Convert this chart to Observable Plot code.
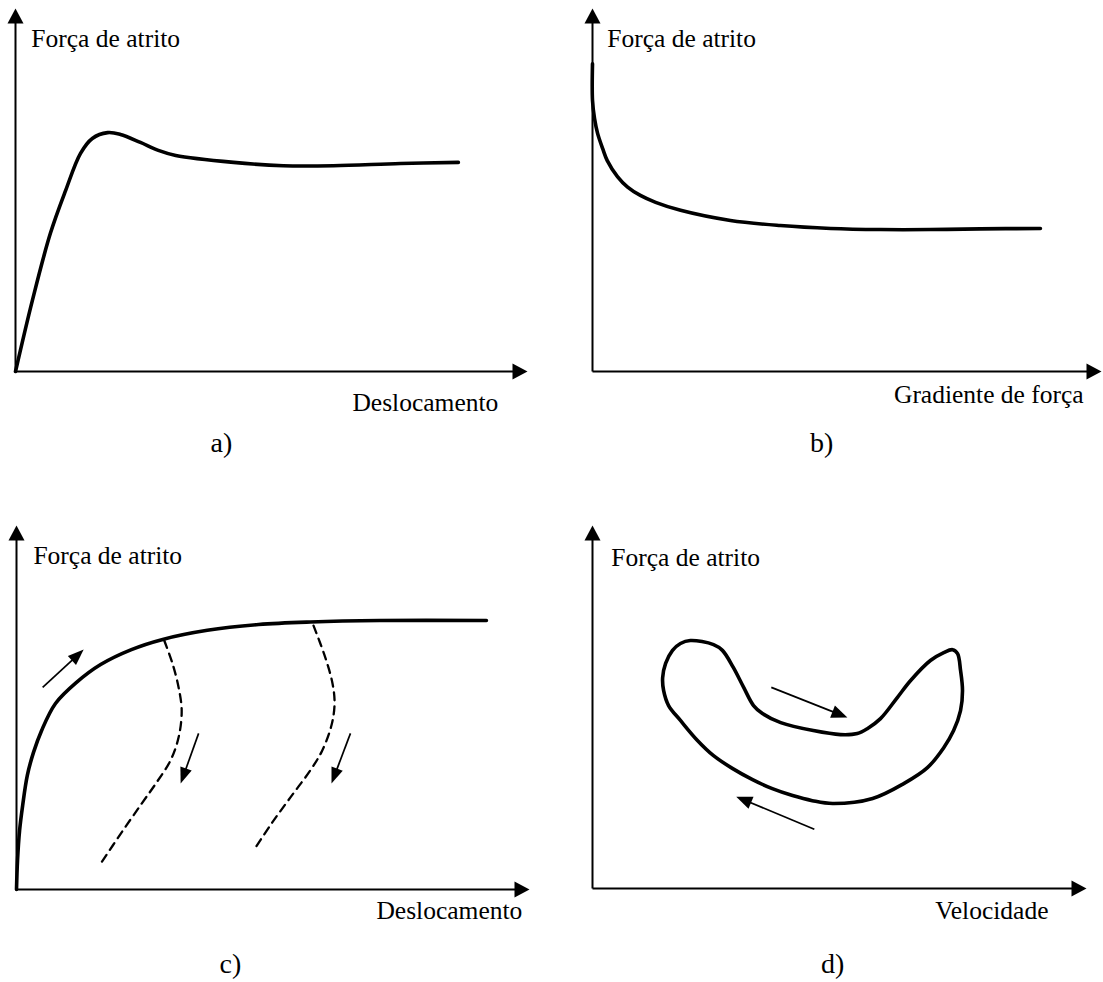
<!DOCTYPE html>
<html>
<head>
<meta charset="utf-8">
<script src="https://cdn.jsdelivr.net/npm/d3@7"></script>
<script src="https://cdn.jsdelivr.net/npm/@observablehq/plot@0.6"></script>
<style>
  html, body { margin: 0; padding: 0; background: #fff; }
  #fig { position: relative; width: 1103px; height: 982px; overflow: hidden; background: #fff; }
  #fig svg { position: absolute; overflow: visible; }
</style>
</head>
<body>
<div id="fig"></div>
<script>
// ---------------- DATA (schematic units: 0..100 along each axis) ----------------
const panelLetters = ["a)", "b)", "c)", "d)"];
const yAxisTitle = "Força de atrito";
const xAxisTitles = ["Deslocamento", "Gradiente de força", "Deslocamento", "Velocidade"];

// a) friction force vs displacement (peak, then steady level)
const curveA = [
  [0, 0], [3.3, 19.6], [6.8, 38.0], [9.8, 49.9], [12.7, 60.1], [15.0, 64.2],
  [18.0, 65.8], [20.5, 65.3], [24.4, 63.1], [27.9, 60.9], [31.3, 59.5],
  [42.6, 57.6], [52.3, 56.7], [62.1, 56.7], [75.2, 57.3], [86.5, 57.6]
];

// b) friction force vs force gradient
const curveB = [
  [0, 84.8], [0, 74.7], [0.4, 69.7], [1.0, 65.6], [2.0, 61.4], [2.9, 58.1],
  [4.9, 53.7], [6.9, 50.8], [9.4, 48.5], [12.4, 46.6], [17.3, 44.4], [27.1, 41.6],
  [36.9, 40.2], [46.8, 39.4], [56.6, 39.1], [66.4, 39.1], [76.2, 39.3], [88.0, 39.4]
];

// c) loading curve and two unloading (dashed) curves
const curveC = [
  [0, 0], [0.2, 8.0], [0.6, 16.2], [1.2, 23.1], [2.1, 31.3], [3.3, 37.6],
  [4.9, 43.7], [7.6, 51.1], [11.7, 56.9], [16.4, 61.8], [22.4, 65.9],
  [28.5, 68.7], [37.2, 71.2], [47.2, 72.8], [57.3, 73.5], [70.8, 73.9], [91.6, 73.9]
];
const unloadC1 = [
  [28.8, 68.4], [30.4, 62.1], [31.6, 55.5], [32.2, 49.2], [31.6, 41.8],
  [30.0, 35.4], [27.3, 29.4], [24.4, 23.6], [20.5, 15.7], [16.4, 7.1]
];
const unloadC2 = [
  [57.9, 72.5], [60.2, 63.7], [61.6, 56.6], [62.0, 51.1], [61.4, 45.1],
  [59.6, 38.2], [57.5, 33.2], [53.4, 25.3], [49.7, 18.1], [46.2, 10.7]
];
const arrowsC = [
  {x1: 5.1, y1: 55.5, x2: 13.1, y2: 65.9},
  {x1: 35.5, y1: 42.9, x2: 32.0, y2: 29.1},
  {x1: 65.1, y1: 42.9, x2: 61.4, y2: 29.1}
];

// d) friction force vs velocity (hysteresis loop)
const loopD = [
  [19.8, 68.3], [24.5, 67.2], [26.3, 65.6], [28.5, 60.9], [30.6, 55.4], [32.6, 50.4],
  [34.4, 48.2], [38.1, 45.7], [44.7, 43.5], [50.2, 42.4], [53.6, 42.7], [55.7, 44.1],
  [58.3, 46.8], [61.7, 52.6], [64.4, 57.3], [68.4, 62.8], [71.1, 65.0], [72.9, 65.8],
  [73.9, 64.7], [74.5, 60.1], [74.9, 54.5], [74.5, 49.0], [73.1, 43.5], [71.1, 38.8],
  [67.8, 33.3], [63.0, 28.9], [56.7, 24.8], [48.6, 23.4], [44.5, 24.2], [40.5, 25.6],
  [36.4, 27.5], [32.4, 30.0], [28.3, 33.1], [24.5, 36.6], [21.1, 41.0], [17.8, 46.3],
  [15.4, 50.4], [14.4, 54.5], [14.2, 58.1], [14.8, 62.0], [16.2, 65.6], [17.8, 67.5]
];
const arrowsD = [
  {x1: 36.2, y1: 55.4, x2: 51.6, y2: 47.1},
  {x1: 44.9, y1: 16.3, x2: 29.1, y2: 25.3}
];

const axisEnds = [
  {x1: 0, y1: 0, x2: 100, y2: 0},
  {x1: 0, y1: 0, x2: 0, y2: 100}
];

// ---------------- LAYOUT ----------------
const panels = [
  {left: 0,   top: 0,   width: 551, height: 491, mL: 15, mR: 24, mT: 8,  mB: 120,
   yTitle: [3.1, 91.7], xTitle: [94.3, -8.5], letter: [40.2, -19.8]},
  {left: 551, top: 0,   width: 552, height: 491, mL: 41, mR: 2,  mT: 8,  mB: 120,
   yTitle: [2.9, 91.7], xTitle: [96.5, -6.3], letter: [45.0, -19.8]},
  {left: 0,   top: 491, width: 551, height: 491, mL: 16, mR: 22, mT: 34, mB: 93,
   yTitle: [3.3, 91.8], xTitle: [98.6, -5.8], letter: [41.7, -20.6]},
  {left: 551, top: 491, width: 552, height: 491, mL: 41, mR: 17, mT: 34, mB: 94,
   yTitle: [3.8, 91.2], xTitle: [92.3, -6.1], letter: [48.6, -20.9]}
];

const FONT = "Liberation Serif, Times New Roman, Times, serif";
const xy = {x: d => d[0], y: d => d[1]};

// filled arrow head with its tip at the origin, pointing along angle (screen space)
function headSymbol(ang, L, W) {
  const ux = Math.cos(ang), uy = Math.sin(ang);
  const px = -uy, py = ux;
  const bx = -ux * L, by = -uy * L;
  return {
    draw(ctx) {
      ctx.moveTo(0, 0);
      ctx.lineTo(bx + px * W / 2, by + py * W / 2);
      ctx.lineTo(bx - px * W / 2, by - py * W / 2);
      ctx.closePath();
    }
  };
}

function arrowMarks(a, P, L, W, sw) {
  const kx = (P.width - P.mL - P.mR) / 100;
  const ky = (P.height - P.mT - P.mB) / 100;
  const sx = (a.x2 - a.x1) * kx, sy = -(a.y2 - a.y1) * ky;
  const len = Math.hypot(sx, sy);
  const ang = Math.atan2(sy, sx);
  const back = L * 0.7;
  const ex = a.x2 - (sx / len * back) / kx;
  const ey = a.y2 + (sy / len * back) / ky;
  return [
    Plot.link([{x1: a.x1, y1: a.y1, x2: ex, y2: ey}],
      {x1: "x1", y1: "y1", x2: "x2", y2: "y2", stroke: "black", strokeWidth: sw}),
    Plot.dot([a], {x: "x2", y: "y2", r: 5, symbol: headSymbol(ang, L, W), fill: "black", stroke: "none"})
  ];
}

function labelMarks(i, P) {
  const common = {x: "x", y: "y", text: "t", fill: "black", fontFamily: FONT};
  return [
    Plot.text([{x: P.yTitle[0], y: P.yTitle[1], t: yAxisTitle}],
      {...common, textAnchor: "start", fontSize: 25.5}),
    Plot.text([{x: P.xTitle[0], y: P.xTitle[1], t: xAxisTitles[i]}],
      {...common, textAnchor: "end", fontSize: 25.5}),
    Plot.text([{x: P.letter[0], y: P.letter[1], t: panelLetters[i]}],
      {...common, textAnchor: "middle", fontSize: 28})
  ];
}

function axesMarks(P) {
  return axisEnds.flatMap(a => arrowMarks(a, P, 15, 16, 2));
}

const content = [
  P => [Plot.line(curveA, {...xy, curve: "catmull-rom", stroke: "black", strokeWidth: 3.6})],
  P => [Plot.line(curveB, {...xy, curve: "catmull-rom", stroke: "black", strokeWidth: 3.6})],
  P => [
    Plot.line(curveC, {...xy, curve: "catmull-rom", stroke: "black", strokeWidth: 3.6}),
    Plot.line(unloadC1, {...xy, curve: "catmull-rom", stroke: "black", strokeWidth: 2.3, strokeDasharray: "8,6"}),
    Plot.line(unloadC2, {...xy, curve: "catmull-rom", stroke: "black", strokeWidth: 2.3, strokeDasharray: "8,6"}),
    ...arrowsC.flatMap(a => arrowMarks(a, P, 16, 12, 1.7))
  ],
  P => [
    Plot.line(loopD, {...xy, curve: "catmull-rom-closed", stroke: "black", strokeWidth: 3.6}),
    ...arrowsD.flatMap(a => arrowMarks(a, P, 16, 13, 1.7))
  ]
];

const fig = document.getElementById("fig");
panels.forEach((P, i) => {
  const svg = Plot.plot({
    width: P.width, height: P.height,
    marginLeft: P.mL, marginRight: P.mR, marginTop: P.mT, marginBottom: P.mB,
    x: {domain: [0, 100], axis: null},
    y: {domain: [0, 100], axis: null},
    style: {fontFamily: FONT, background: "transparent", overflow: "visible", color: "black"},
    marks: [
      ...axesMarks(P),
      ...content[i](P),
      ...labelMarks(i, P)
    ]
  });
  svg.style.left = P.left + "px";
  svg.style.top = P.top + "px";
  fig.appendChild(svg);
});
</script>
</body>
</html>
